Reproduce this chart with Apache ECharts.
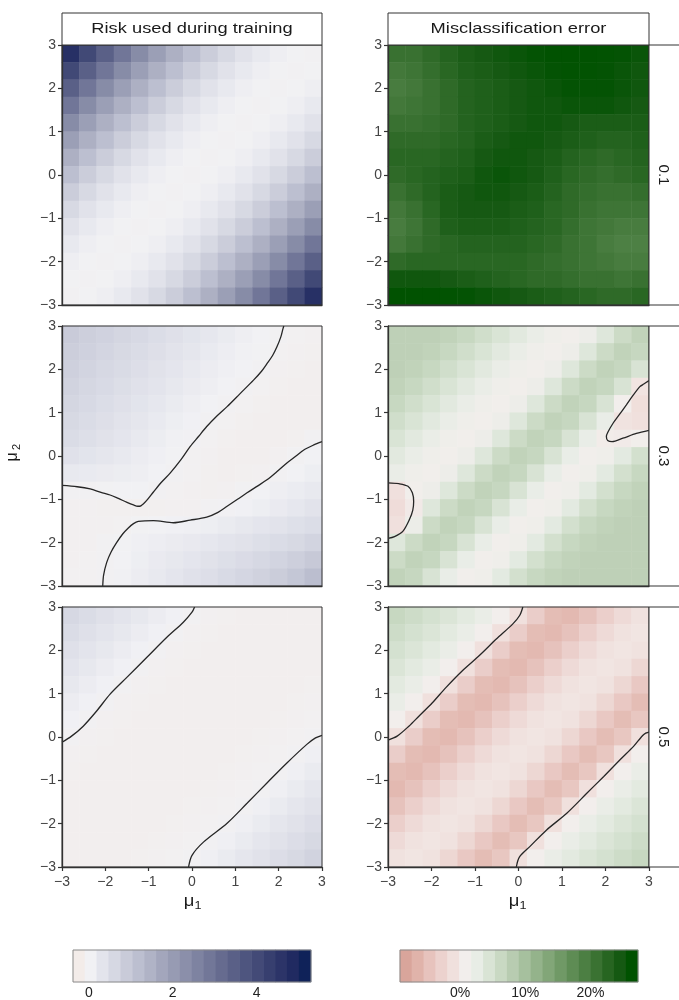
<!DOCTYPE html>
<html>
<head>
<meta charset="utf-8">
<script src="https://cdn.jsdelivr.net/npm/echarts@6/dist/echarts.min.js"></script>
</head>
<body style="margin:0;background:#ffffff">
<div id="main" style="width:679px;height:1000px;"></div>
<script type="text/javascript">
var FONT = '"Liberation Sans", Arial, Helvetica, sans-serif';

// cell centres of the grids (mu1 along columns, mu2 along rows, top row = 2.8)
var mu = [-2.8, -2.4, -2.0, -1.6, -1.2, -0.8, -0.4, 0, 0.4, 0.8, 1.2, 1.6, 2.0, 2.4, 2.8];
var colTitles = ['Risk used during training', 'Misclassification error'];
var rowLabels = ['0.1', '0.3', '0.5'];

// risk used during training, sigma 0.1
var risk01 = [
  [4.70,4.06,3.46,2.90,2.40,1.94,1.54,1.18,0.86,0.60,0.38,0.22,0.10,0.03,0.00],
  [4.06,3.46,2.90,2.40,1.94,1.54,1.18,0.86,0.60,0.38,0.22,0.10,0.03,0.00,0.03],
  [3.46,2.90,2.40,1.94,1.54,1.18,0.86,0.60,0.38,0.22,0.10,0.03,0.00,0.03,0.10],
  [2.90,2.40,1.94,1.54,1.18,0.86,0.60,0.38,0.22,0.10,0.03,0.00,0.03,0.10,0.22],
  [2.40,1.94,1.54,1.18,0.86,0.60,0.38,0.22,0.10,0.03,0.00,0.03,0.10,0.22,0.38],
  [1.94,1.54,1.18,0.86,0.60,0.38,0.22,0.10,0.03,0.00,0.03,0.10,0.22,0.38,0.60],
  [1.54,1.18,0.86,0.60,0.38,0.22,0.10,0.03,0.00,0.03,0.10,0.22,0.38,0.60,0.86],
  [1.18,0.86,0.60,0.38,0.22,0.10,0.03,0.00,0.03,0.10,0.22,0.38,0.60,0.86,1.18],
  [0.86,0.60,0.38,0.22,0.10,0.03,0.00,0.03,0.10,0.22,0.38,0.60,0.86,1.18,1.54],
  [0.60,0.38,0.22,0.10,0.03,0.00,0.03,0.10,0.22,0.38,0.60,0.86,1.18,1.54,1.94],
  [0.38,0.22,0.10,0.03,0.00,0.03,0.10,0.22,0.38,0.60,0.86,1.18,1.54,1.94,2.40],
  [0.22,0.10,0.03,0.00,0.03,0.10,0.22,0.38,0.60,0.86,1.18,1.54,1.94,2.40,2.90],
  [0.10,0.03,0.00,0.03,0.10,0.22,0.38,0.60,0.86,1.18,1.54,1.94,2.40,2.90,3.46],
  [0.03,0.00,0.03,0.10,0.22,0.38,0.60,0.86,1.18,1.54,1.94,2.40,2.90,3.46,4.06],
  [0.00,0.03,0.10,0.22,0.38,0.60,0.86,1.18,1.54,1.94,2.40,2.90,3.46,4.06,4.70]
];

// misclassification error (%), sigma 0.1
var err01 = [
  [21,21,22,23,24,24.5,25,25.5,26,26.3,26.3,26.3,26.2,26,25.5],
  [20,20.5,21.5,22.5,23.5,24,24.5,25,25.5,26,26.2,26.2,26,25.5,25],
  [19.5,20,21,22,23,23.5,24,24.5,25,25.5,26,26,26,25.5,25],
  [20,20.5,21,22,23,23.5,24,24.5,25,25,25.5,25.5,25.5,25,24.5],
  [21,21,21.5,22,23,23.5,24,24.5,25,25,24.5,24,24,24,24],
  [22,22,22,22.5,23,24,24.5,25,25,24.5,24,23.5,23,23,23.5],
  [22.5,22.5,22.5,23,23.5,24.5,25,25,24.5,24,23,22.5,22,22.5,23],
  [22,22.5,23,23.5,24,25,25.5,25,24.5,23.5,22.5,22,21.5,22,22.5],
  [21,22,23,24,24.5,25,25,24.5,24,23,22,21.5,21,21,21.5],
  [20,21,22.5,24,24.5,24.5,24.5,24,23.5,22.5,22,21,20.5,20.5,20.5],
  [19.5,20.5,22,23.5,24,24,24,23.5,23,22.5,21.5,20.5,20,19.5,19.5],
  [20,21,22,22.5,23,23,23,23,22.5,22,21,20.5,19.5,19,19],
  [22,22.5,22.5,22.5,22.5,22.5,22.5,22.5,22,21.5,21,20.5,20,19.5,19.5],
  [25,25,25,24.5,24,23.5,23,22.5,22,22,21.5,21,21,20.5,21],
  [26.3,26.3,26.3,26.2,26,25.5,25,24.5,24,23.5,23,22.5,22,22,22.5]
];

// risk, sigma 0.3
var risk03 = [
  [0.90,0.82,0.74,0.66,0.58,0.50,0.42,0.34,0.26,0.18,0.11,0.05,0.00,-0.04,-0.06],
  [0.84,0.76,0.68,0.60,0.52,0.44,0.36,0.28,0.20,0.13,0.07,0.02,-0.03,-0.06,-0.08],
  [0.78,0.70,0.62,0.54,0.46,0.38,0.30,0.22,0.15,0.09,0.04,-0.01,-0.05,-0.08,-0.10],
  [0.72,0.64,0.56,0.48,0.40,0.32,0.24,0.17,0.10,0.05,0.00,-0.04,-0.08,-0.10,-0.12],
  [0.66,0.58,0.50,0.42,0.34,0.26,0.18,0.11,0.05,0.00,-0.04,-0.08,-0.10,-0.12,-0.12],
  [0.60,0.52,0.44,0.36,0.28,0.20,0.12,0.06,0.00,-0.04,-0.08,-0.10,-0.12,-0.12,-0.10],
  [0.52,0.45,0.38,0.30,0.22,0.14,0.07,0.01,-0.04,-0.08,-0.10,-0.12,-0.11,-0.08,-0.02],
  [0.40,0.34,0.28,0.22,0.15,0.08,0.02,-0.03,-0.07,-0.10,-0.11,-0.10,-0.06,0.00,0.05],
  [0.22,0.20,0.17,0.14,0.10,0.05,0.00,-0.04,-0.08,-0.10,-0.09,-0.06,-0.01,0.05,0.12],
  [-0.02,0.00,0.02,0.04,0.04,0.00,-0.04,-0.07,-0.08,-0.07,-0.01,0.04,0.10,0.16,0.22],
  [-0.06,-0.07,-0.08,-0.08,-0.08,-0.08,-0.07,-0.05,-0.02,0.01,0.06,0.12,0.19,0.27,0.35],
  [-0.07,-0.07,-0.06,-0.03,0.02,0.05,0.06,0.08,0.12,0.18,0.24,0.30,0.36,0.43,0.50],
  [-0.06,-0.05,-0.02,0.02,0.08,0.13,0.17,0.21,0.26,0.32,0.38,0.45,0.52,0.60,0.70],
  [-0.05,-0.04,-0.01,0.05,0.12,0.19,0.25,0.31,0.38,0.45,0.53,0.61,0.70,0.80,0.95],
  [-0.04,-0.03,0.00,0.07,0.15,0.23,0.31,0.39,0.47,0.56,0.65,0.75,0.86,1.00,1.20]
];

// error (%), sigma 0.3
var err03 = [
  [7.5,7.5,7.5,7.2,6.5,5.5,4.5,3.4,2.2,1.3,1.0,1.8,3.8,6.0,7.2],
  [7.5,7.5,7.2,6.5,5.5,4.5,3.4,2.2,1.3,1.0,1.8,3.8,6.0,7.2,6.6],
  [7.5,7.2,6.5,5.5,4.5,3.4,2.2,1.3,1.0,1.8,3.8,6.0,7.2,6.6,4.6],
  [7.2,6.5,5.5,4.5,3.4,2.2,1.3,1.0,1.8,3.8,6.0,7.2,6.6,4.6,-0.5],
  [6.5,5.5,4.5,3.4,2.2,1.3,1.0,1.8,3.8,6.0,7.2,6.6,4.6,0.8,-1.2],
  [5.5,4.5,3.4,2.2,1.3,1.0,1.8,3.8,6.0,7.2,6.6,4.6,2.4,-0.6,-1.0],
  [4.5,3.4,2.2,1.3,1.0,1.8,3.8,6.0,7.2,6.6,4.6,2.4,0.5,0.3,1.0],
  [3.4,2.2,1.3,1.0,1.8,3.8,6.0,7.2,6.6,4.6,2.4,1.0,1.4,3.2,5.2],
  [2.2,1.3,1.0,1.8,3.8,6.0,7.2,6.6,4.6,2.4,1.0,1.4,3.2,5.2,6.5],
  [-1.0,1.0,1.8,3.8,6.0,7.2,6.6,4.6,2.4,1.0,1.4,3.2,5.2,6.5,7.2],
  [-1.5,0.2,3.8,6.0,7.2,6.6,4.6,2.4,1.0,1.4,3.2,5.2,6.5,7.2,7.5],
  [-1.0,2.0,6.0,7.2,6.6,4.6,2.4,1.0,1.4,3.2,5.2,6.5,7.2,7.5,7.5],
  [3.8,6.0,7.2,6.6,4.6,2.4,1.0,1.4,3.2,5.2,6.5,7.2,7.5,7.5,7.5],
  [6.0,7.2,6.6,4.6,2.4,1.0,1.4,3.2,5.2,6.5,7.2,7.5,7.5,7.5,7.5],
  [7.2,6.6,4.6,2.4,1.0,1.4,3.2,5.2,6.5,7.2,7.5,7.5,7.5,7.5,7.5]
];

// risk, sigma 0.5
var risk05 = [
  [0.62,0.52,0.42,0.33,0.24,0.15,0.06,-0.02,-0.06,-0.09,-0.10,-0.11,-0.11,-0.11,-0.11],
  [0.52,0.42,0.33,0.24,0.15,0.06,-0.02,-0.06,-0.09,-0.10,-0.11,-0.11,-0.11,-0.11,-0.11],
  [0.42,0.33,0.24,0.15,0.06,-0.02,-0.06,-0.09,-0.10,-0.11,-0.11,-0.11,-0.11,-0.11,-0.11],
  [0.33,0.24,0.15,0.06,-0.02,-0.06,-0.09,-0.10,-0.11,-0.11,-0.11,-0.11,-0.11,-0.11,-0.10],
  [0.24,0.15,0.06,-0.02,-0.06,-0.09,-0.10,-0.11,-0.11,-0.11,-0.11,-0.11,-0.11,-0.10,-0.09],
  [0.15,0.06,-0.02,-0.06,-0.09,-0.10,-0.11,-0.11,-0.11,-0.11,-0.11,-0.11,-0.10,-0.09,-0.07],
  [0.06,-0.02,-0.06,-0.09,-0.10,-0.11,-0.11,-0.11,-0.11,-0.11,-0.11,-0.10,-0.09,-0.07,-0.04],
  [-0.02,-0.06,-0.09,-0.10,-0.11,-0.11,-0.11,-0.11,-0.11,-0.11,-0.10,-0.09,-0.07,-0.04,-0.01],
  [-0.06,-0.09,-0.10,-0.11,-0.11,-0.11,-0.11,-0.11,-0.11,-0.10,-0.09,-0.07,-0.04,-0.01,0.08],
  [-0.09,-0.10,-0.11,-0.11,-0.11,-0.11,-0.11,-0.11,-0.10,-0.09,-0.07,-0.04,-0.01,0.08,0.18],
  [-0.10,-0.11,-0.11,-0.11,-0.11,-0.11,-0.11,-0.10,-0.09,-0.07,-0.04,-0.01,0.08,0.18,0.28],
  [-0.11,-0.11,-0.11,-0.11,-0.11,-0.11,-0.10,-0.09,-0.07,-0.04,-0.01,0.08,0.18,0.28,0.38],
  [-0.11,-0.11,-0.11,-0.11,-0.11,-0.10,-0.09,-0.07,-0.04,-0.01,0.08,0.18,0.28,0.38,0.49],
  [-0.11,-0.11,-0.11,-0.11,-0.10,-0.09,-0.07,-0.04,-0.01,0.08,0.18,0.28,0.38,0.49,0.60],
  [-0.11,-0.11,-0.11,-0.10,-0.09,-0.07,-0.04,-0.01,0.08,0.18,0.28,0.38,0.49,0.60,0.72]
];

// error (%), sigma 0.5
var err05 = [
  [6.5,5.8,5.0,4.2,3.3,2.3,0.8,-1.0,-3.4,-5.4,-5.8,-4.8,-3.2,-1.8,-0.8],
  [5.8,5.0,4.2,3.3,2.3,0.8,-1.0,-3.4,-5.4,-5.8,-4.8,-3.2,-1.8,-0.8,-0.4],
  [5.0,4.2,3.3,2.3,0.8,-1.0,-3.4,-5.4,-5.8,-4.8,-3.2,-1.8,-0.8,-0.4,-0.8],
  [4.2,3.3,2.3,0.8,-1.0,-3.4,-5.4,-5.8,-4.8,-3.2,-1.8,-0.8,-0.4,-0.8,-2.2],
  [3.3,2.3,0.8,-1.0,-3.4,-5.4,-5.8,-4.8,-3.2,-1.8,-0.8,-0.4,-0.8,-2.2,-4.0],
  [2.3,0.8,-1.0,-3.4,-5.4,-5.8,-4.8,-3.2,-1.8,-0.8,-0.4,-0.8,-2.2,-4.0,-5.4],
  [0.8,-1.0,-3.4,-5.4,-5.8,-4.8,-3.2,-1.8,-0.8,-0.4,-0.8,-2.2,-4.0,-5.4,-4.2],
  [-1.0,-3.4,-5.4,-5.8,-4.8,-3.2,-1.8,-0.8,-0.4,-0.8,-2.2,-4.0,-5.4,-4.2,-1.0],
  [-3.4,-5.4,-5.8,-4.8,-3.2,-1.8,-0.8,-0.4,-0.8,-2.2,-4.0,-5.4,-4.2,-1.0,0.8],
  [-5.4,-5.8,-4.8,-3.2,-1.8,-0.8,-0.4,-0.8,-2.2,-4.0,-5.4,-4.2,-1.0,0.8,2.3],
  [-5.8,-4.8,-3.2,-1.8,-0.8,-0.4,-0.8,-2.2,-4.0,-5.4,-4.2,-1.0,0.8,2.3,3.3],
  [-4.8,-3.2,-1.8,-0.8,-0.4,-0.8,-2.2,-4.0,-5.4,-4.2,-1.0,0.8,2.3,3.3,4.2],
  [-3.2,-1.8,-0.8,-0.4,-0.8,-2.2,-4.0,-5.4,-4.2,-1.0,0.8,2.3,3.3,4.2,5.0],
  [-1.8,-0.8,-0.4,-0.8,-2.2,-4.0,-5.4,-4.2,-1.0,0.8,2.3,3.3,4.2,5.0,5.8],
  [-0.8,-0.4,-0.8,-2.2,-4.0,-5.4,-4.2,-1.0,0.8,2.3,3.3,4.2,5.0,5.8,6.5]
];

// zero contours [mu1, mu2]
var risk03Lines = [
  [[-3,-0.68],[-2.65,-0.71],[-2.35,-0.76],[-2.1,-0.84],[-1.89,-0.9],[-1.7,-0.98],[-1.5,-1.07],[-1.35,-1.13],[-1.25,-1.16],[-1.18,-1.15],[-1.05,-1.03],[-0.89,-0.83],[-0.7,-0.6],[-0.5,-0.39],[-0.25,-0.08],[-0.04,0.22],[0.15,0.45],[0.34,0.68],[0.58,0.93],[0.81,1.14],[1.11,1.44],[1.42,1.75],[1.6,1.95],[1.73,2.13],[1.86,2.32],[1.96,2.52],[2.05,2.75],[2.1,2.94],[2.12,3]],
  [[-2.06,-3],[-2.04,-2.75],[-1.97,-2.46],[-1.87,-2.22],[-1.74,-2.0],[-1.6,-1.8],[-1.47,-1.66],[-1.35,-1.56],[-1.24,-1.51],[-0.89,-1.49],[-0.43,-1.54],[-0.04,-1.48],[0.34,-1.41],[0.6,-1.3],[0.81,-1.16],[1.05,-1.0],[1.27,-0.85],[1.5,-0.7],[1.73,-0.55],[1.95,-0.37],[2.19,-0.16],[2.4,0.0],[2.58,0.14],[2.8,0.25],[3,0.33]]
];
var err03Lines = [
  [[-3,-0.62],[-2.75,-0.64],[-2.54,-0.7],[-2.44,-0.85],[-2.41,-1.05],[-2.43,-1.25],[-2.5,-1.45],[-2.66,-1.74],[-2.85,-1.86],[-3,-1.9]],
  [[3,1.74],[2.88,1.66],[2.79,1.6],[2.62,1.38],[2.48,1.18],[2.3,0.93],[2.17,0.75],[2.06,0.56],[2.02,0.45],[2.05,0.36],[2.15,0.33],[2.4,0.41],[2.71,0.52],[3,0.59]]
];
var risk05Lines = [
  [[-3,-0.12],[-2.78,0.02],[-2.51,0.25],[-2.2,0.6],[-1.89,0.99],[-1.51,1.37],[-1.04,1.84],[-0.58,2.3],[-0.2,2.65],[0.0,2.88],[0.06,3]],
  [[-0.08,-3],[0.0,-2.73],[0.27,-2.42],[0.81,-1.99],[1.27,-1.53],[1.73,-1.06],[2.19,-0.6],[2.65,-0.17],[2.85,-0.02],[3,0.04]]
];
var err05Lines = [
  [[-3,-0.07],[-2.79,0.02],[-2.52,0.25],[-2.29,0.48],[-1.98,0.79],[-1.67,1.14],[-1.29,1.53],[-0.9,1.88],[-0.51,2.26],[-0.13,2.61],[0.03,2.81],[0.1,3]],
  [[-0.05,-3],[0.02,-2.77],[0.26,-2.53],[0.64,-2.15],[1.11,-1.76],[1.57,-1.3],[1.96,-0.91],[2.34,-0.52],[2.65,-0.21],[2.88,0.06],[3,0.11]]
];

// colour bars: bin centres and bin colours
var riskBins = [-0.24,0.05,0.33,0.61,0.90,1.18,1.47,1.75,2.03,2.32,2.60,2.89,3.17,3.45,3.74,4.02,4.31,4.59,4.87,5.16];
var riskColors = ['#f3ece9','#f1f1f4','#e3e4ec','#d6d8e3','#c9cbd9','#bcbfd0','#b0b3c6','#a3a6bc','#979bb3','#8b8faa',
                  '#7e83a1','#727798','#666b8f','#5a6087','#4e557f','#434a77','#373f6f','#2c3468','#202a61','#0f2259'];
var errBins = [-8.32,-6.49,-4.66,-2.84,-1.01,0.82,2.64,4.47,6.30,8.12,9.95,11.78,13.60,15.43,17.25,19.08,20.91,22.73,24.56,26.39];
var errColors = ['#d9a59b','#e0b3aa','#e7c3bd','#ecd2ce','#f0e0dd','#f2eeec','#e8ede6','#d9e4d5','#c9d9c3','#b8ccb1',
                 '#a6c09e','#94b38b','#82a678','#709966','#5e8c54','#4c7f43','#3a7232','#276521','#155912','#005200'];
var riskBarRange = [-0.38, 5.30], riskBarTicks = [0,1,2,3,4,5], riskBarLabels = [0,2,4];
var errBarRange = [-9.23, 27.3], errBarTicks = [-5,0,5,10,15,20,25], errBarLabels = [0,10,20];

// layout
var colLeft = [62, 388], panelW = [260, 261];
var rowTop = [45, 326, 607], panelH = 260;
var barLeft = [73, 400], barTop = 950, barW = 238, barH = 32;

function minusFmt(v) { return v < 0 ? '\u2212' + Math.abs(v) : String(v); }

var myChart = echarts.init(document.getElementById('main'));
var grids = [], xAxes = [], yAxes = [], heat = [], lineSeries = [], graphics = [];
var panels = [risk01, err01, risk03, err03, risk05, err05];
var contours = [[], [], risk03Lines, err03Lines, risk05Lines, err05Lines];

panels.forEach(function (vals, p) {
  var row = Math.floor(p / 2), col = p % 2;
  grids.push({left: colLeft[col], top: rowTop[row], width: panelW[col], height: panelH});
  var ai = xAxes.length;
  xAxes.push({type: 'category', gridIndex: p, data: mu, show: false});
  xAxes.push({type: 'value', gridIndex: p, min: -3, max: 3, interval: 1, position: 'bottom', z: 10,
    axisLine: {show: true, onZero: false, lineStyle: {color: '#333', width: 1.3}},
    axisTick: {show: row === 2, length: 4, lineStyle: {color: '#333', width: 1.2}},
    axisLabel: {show: row === 2, color: '#444', fontSize: 14, fontFamily: FONT, margin: 8, formatter: minusFmt},
    splitLine: {show: false}});
  yAxes.push({type: 'category', gridIndex: p, data: mu, show: false});
  yAxes.push({type: 'value', gridIndex: p, min: -3, max: 3, interval: 1, position: 'left', z: 10,
    axisLine: {show: true, onZero: false, lineStyle: {color: '#333', width: 1.3}},
    axisTick: {show: true, length: 4, lineStyle: {color: '#333', width: 1.2}},
    axisLabel: {color: '#444', fontSize: 14, fontFamily: FONT, margin: 6, formatter: minusFmt},
    splitLine: {show: false}});
  var data = [];
  for (var r = 0; r < vals.length; r++) {
    for (var c = 0; c < vals[r].length; c++) {
      data.push([c, vals.length - 1 - r, vals[r][c]]);
    }
  }
  heat.push({type: 'heatmap', xAxisIndex: ai, yAxisIndex: ai, data: data, silent: true,
    emphasis: {disabled: true}});
  contours[p].forEach(function (pts) {
    lineSeries.push({type: 'line', xAxisIndex: ai + 1, yAxisIndex: ai + 1, data: pts,
      showSymbol: false, smooth: 0.3, clip: true, silent: true, z: 5,
      lineStyle: {color: '#262626', width: 1.3}});
  });
  // panel frame
  graphics.push({type: 'rect', z: 100, silent: true,
    shape: {x: colLeft[col], y: rowTop[row], width: panelW[col], height: panelH},
    style: {fill: null, stroke: '#333', lineWidth: 1}});
});

// strips
colTitles.forEach(function (t, col) {
  graphics.push({type: 'rect', z: 100, shape: {x: colLeft[col], y: 13, width: panelW[col], height: 32},
    style: {fill: '#fff', stroke: '#333', lineWidth: 1}});
  graphics.push({type: 'text', z: 101, x: colLeft[col] + panelW[col] / 2, y: 29, scaleX: 1.18,
    style: {text: t, fill: '#1a1a1a', fontSize: 15.5, fontFamily: FONT, align: 'center', verticalAlign: 'middle'}});
});
rowLabels.forEach(function (t, row) {
  graphics.push({type: 'rect', z: 100, shape: {x: colLeft[1] + panelW[1], y: rowTop[row], width: 40, height: panelH},
    style: {fill: '#fff', stroke: '#333', lineWidth: 1}});
  graphics.push({type: 'text', z: 101, x: 663, y: rowTop[row] + panelH / 2, rotation: -Math.PI / 2,
    style: {text: t, fill: '#1a1a1a', fontSize: 15, fontFamily: FONT, align: 'center', verticalAlign: 'middle'}});
});

// axis titles
[193, 518].forEach(function (x) {
  graphics.push({type: 'text', z: 101, x: x - 4, y: 902, scaleX: 1.15,
    style: {text: '\u03bc', fill: '#1a1a1a', fontSize: 16, fontFamily: FONT, align: 'center', verticalAlign: 'middle'}});
  graphics.push({type: 'text', z: 101, x: x + 5, y: 906, scaleX: 1.15,
    style: {text: '1', fill: '#1a1a1a', fontSize: 11, fontFamily: FONT, align: 'center', verticalAlign: 'middle'}});
});
graphics.push({type: 'text', z: 101, x: 13, y: 457, rotation: Math.PI / 2,
  style: {text: '\u03bc', fill: '#1a1a1a', fontSize: 16, fontFamily: FONT, align: 'center', verticalAlign: 'middle'}});
graphics.push({type: 'text', z: 101, x: 17, y: 447, rotation: Math.PI / 2,
  style: {text: '2', fill: '#1a1a1a', fontSize: 11, fontFamily: FONT, align: 'center', verticalAlign: 'middle'}});

// colour bars
var bars = [
  {bins: riskBins, range: riskBarRange, ticks: riskBarTicks, labels: riskBarLabels, fmt: function (v) { return String(v); }},
  {bins: errBins, range: errBarRange, ticks: errBarTicks, labels: errBarLabels, fmt: function (v) { return v + '%'; }}
];
bars.forEach(function (b, i) {
  var gi = grids.length;
  grids.push({left: barLeft[i], top: barTop, width: barW, height: barH});
  var ai = xAxes.length;
  var cats = b.bins.map(function (v, k) { return k; });
  xAxes.push({type: 'category', gridIndex: gi, data: cats, show: false});
  xAxes.push({type: 'value', gridIndex: gi, min: b.range[0], max: b.range[1], position: 'bottom', z: 10,
    axisLine: {show: false},
    axisTick: {inside: true, length: 6, customValues: b.ticks, lineStyle: {color: '#111', width: 1.2}},
    axisLabel: {customValues: b.labels, color: '#222', fontSize: 14, fontFamily: FONT, margin: 4, formatter: b.fmt},
    splitLine: {show: false}});
  xAxes.push({type: 'value', gridIndex: gi, min: b.range[0], max: b.range[1], position: 'top', z: 10,
    axisLine: {show: false},
    axisTick: {inside: true, length: 6, customValues: b.ticks, lineStyle: {color: '#111', width: 1.2}},
    axisLabel: {show: false}, splitLine: {show: false}});
  var yi = yAxes.length;
  yAxes.push({type: 'category', gridIndex: gi, data: ['bar'], show: false});
  heat.push({type: 'heatmap', xAxisIndex: ai, yAxisIndex: yi, silent: true, emphasis: {disabled: true},
    data: b.bins.map(function (v, k) { return [k, 0, v]; })});
  graphics.push({type: 'rect', z: 100, silent: true, shape: {x: barLeft[i], y: barTop, width: barW, height: barH},
    style: {fill: null, stroke: '#8a8a8a', lineWidth: 1}});
});

var option = {
  animation: false,
  backgroundColor: '#ffffff',
  grid: grids,
  xAxis: xAxes,
  yAxis: yAxes,
  visualMap: [
    {type: 'continuous', show: false, seriesIndex: [0, 2, 4, 6], min: riskBins[0], max: riskBins[riskBins.length - 1],
      inRange: {color: riskColors}},
    {type: 'continuous', show: false, seriesIndex: [1, 3, 5, 7], min: errBins[0], max: errBins[errBins.length - 1],
      inRange: {color: errColors}}
  ],
  series: heat.concat(lineSeries),
  graphic: graphics
};
myChart.setOption(option);
</script>
</body>
</html>
